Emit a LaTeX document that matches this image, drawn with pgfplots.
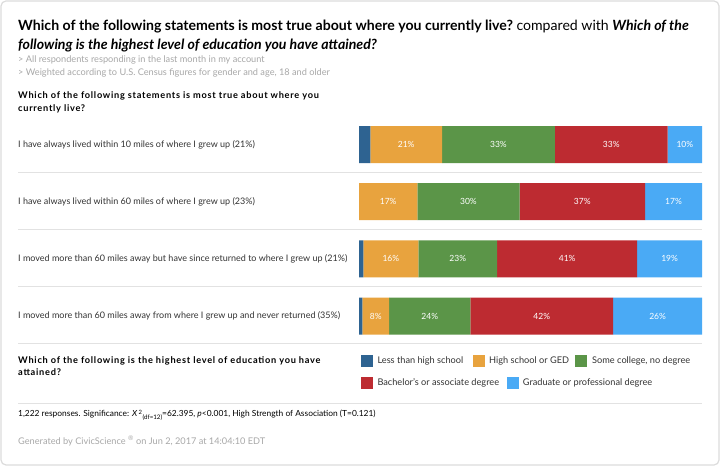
\documentclass[border=0pt]{standalone}
\usepackage{fontspec}
\setmainfont{Lato}
\usepackage{pgfplots}
\pgfplotsset{compat=1.18}
\usepackage{pgfplotstable}
\definecolor{cLess}{HTML}{2E6391}
\definecolor{cHS}{HTML}{E8A33E}
\definecolor{cSome}{HTML}{5B9548}
\definecolor{cBach}{HTML}{BD2B31}
\definecolor{cGrad}{HTML}{4AAAF5}
\definecolor{cBorder}{HTML}{DCDCDC}
\definecolor{cSep}{HTML}{E2E2E2}
\definecolor{cGray}{HTML}{A8A8A8}
\definecolor{cText}{HTML}{333333}
\pgfplotstableread{
row a b c d e
0 3.3 20.9 32.9 32.9 10.0
1 0 17.0 29.8 36.6 16.6
2 1.3 16.0 23.0 40.8 18.9
3 1.0 7.8 23.7 41.6 25.9
}\data
\newcommand{\lab}{\fontsize{9.2}{11}\selectfont}
\newcommand{\rlab}{\fontsize{9.0}{11}\selectfont}
\newcommand{\qb}{\fontsize{9.2}{11}\selectfont\bfseries\addfontfeature{LetterSpace=8}}
\begin{document}
\begin{tikzpicture}
\path[use as bounding box] (0,0) rectangle (720pt,466pt);
\draw[draw=cBorder, line width=1.2pt, rounded corners=5pt, fill=white] (1pt,1pt) rectangle (719pt,465pt);
% title
\node[anchor=base west, inner sep=0pt, text=black, font=\fontsize{14.1}{16}\selectfont] at (18pt,435pt)
 {\bfseries Which of the following statements is most true about where you currently live?\mdseries\ compared with \bfseries\itshape Which of the};
\node[anchor=base west, inner sep=0pt, text=black, font=\fontsize{14.1}{16}\selectfont\bfseries\itshape] at (18pt,416pt)
 {following is the highest level of education you have attained?};
\node[anchor=base west, inner sep=0pt, text=cGray, font=\lab] at (18pt,403pt) {> All respondents responding in the last month in my account};
\node[anchor=base west, inner sep=0pt, text=cGray, font=\lab] at (18pt,390pt) {> Weighted according to U.S. Census figures for gender and age, 18 and older};
\node[anchor=base west, inner sep=0pt, text=black, font=\qb] at (18pt,367pt) {Which of the following statements is most true about where you};
\node[anchor=base west, inner sep=0pt, text=black, font=\qb] at (18pt,354pt) {currently live?};
% row labels
\node[anchor=west, inner sep=0pt, text=cText, font=\rlab] at (18pt,321pt) {I have always lived within 10 miles of where I grew up (21\%)};
\node[anchor=west, inner sep=0pt, text=cText, font=\rlab] at (18pt,264.3pt) {I have always lived within 60 miles of where I grew up (23\%)};
\node[anchor=west, inner sep=0pt, text=cText, font=\rlab] at (18pt,207pt) {I moved more than 60 miles away but have since returned to where I grew up (21\%)};
\node[anchor=west, inner sep=0pt, text=cText, font=\rlab] at (18pt,150pt) {I moved more than 60 miles away from where I grew up and never returned (35\%)};
% separators
\foreach \yy in {293.5,236.3,179,122,63} {\draw[cSep, line width=1pt] (18pt,\yy pt) -- (702pt,\yy pt);}
\begin{axis}[
  at={(359pt,121.3pt)}, anchor=south west,
  scale only axis, width=343pt, height=228.8pt,
  xbar stacked, bar width=37pt,
  xmin=0, xmax=100, ymin=-0.5, ymax=3.5, y dir=reverse,
  hide axis, clip=false,
  point meta=explicit,
  nodes near coords={\pgfmathprintnumber[fixed,precision=0,assume math mode=true]{\pgfplotspointmeta}\%},
  every node near coord/.append style={anchor=center, text=white, font=\fontsize{8.5}{10}\selectfont},
]
\addplot[fill=cLess, draw=none, nodes near coords={}] table[x=a, y=row, meta=a] {\data};
\addplot[fill=cHS, draw=none] table[x=b, y=row, meta=b] {\data};
\addplot[fill=cSome, draw=none] table[x=c, y=row, meta=c] {\data};
\addplot[fill=cBach, draw=none] table[x=d, y=row, meta=d] {\data};
\addplot[fill=cGrad, draw=none] table[x=e, y=row, meta=e] {\data};
\end{axis}
% legend
\node[anchor=base west, inner sep=0pt, text=black, font=\qb] at (18pt,102pt) {Which of the following is the highest level of education you have};
\node[anchor=base west, inner sep=0pt, text=black, font=\qb] at (18pt,90pt) {attained?};
\fill[cLess] (360.7pt,99pt) rectangle ++(12pt,11.5pt);
\node[anchor=west, inner sep=0pt, text=cText, font=\lab] at (377.3pt,104.8pt) {Less than high school};
\fill[cHS] (472.7pt,99pt) rectangle ++(12pt,11.5pt);
\node[anchor=west, inner sep=0pt, text=cText, font=\lab] at (489pt,104.8pt) {High school or GED};
\fill[cSome] (575pt,99pt) rectangle ++(12pt,11.5pt);
\node[anchor=west, inner sep=0pt, text=cText, font=\lab] at (592pt,104.8pt) {Some college, no degree};
\fill[cBach] (360.7pt,77pt) rectangle ++(12pt,11.5pt);
\node[anchor=west, inner sep=0pt, text=cText, font=\lab] at (377.3pt,82.7pt) {Bachelor's or associate degree};
\fill[cGrad] (506.7pt,77pt) rectangle ++(12pt,11.5pt);
\node[anchor=west, inner sep=0pt, text=cText, font=\lab] at (522.7pt,82.7pt) {Graduate or professional degree};
% footer
\node[anchor=base west, inner sep=0pt, text=black, font=\fontsize{8.4}{10}\selectfont] at (18pt,49pt)
 {1,222 responses. Significance: \textit{X}\,\textsuperscript{2}\raisebox{-0.7ex}{\fontsize{6.2}{7}\selectfont (df=12)}=62.395, \textit{p}<0.001, High Strength of Association (T=0.121)};
\node[anchor=base west, inner sep=0pt, text=cGray, font=\lab] at (18pt,22pt)
 {Generated by CivicScience \textsuperscript{®} on Jun 2, 2017 at 14:04:10 EDT};
\end{tikzpicture}
\end{document}
